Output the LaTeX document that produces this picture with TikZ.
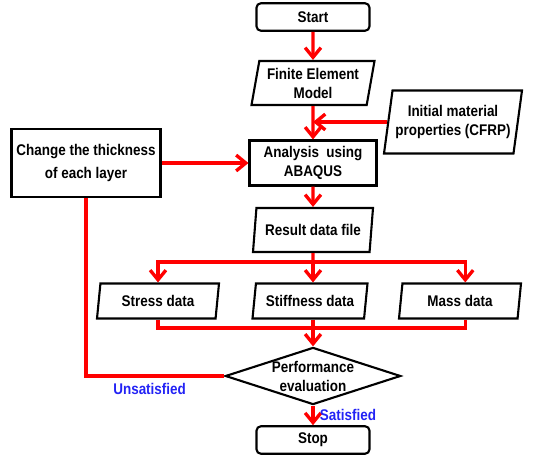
\documentclass[tikz,border=0pt]{standalone}
\usepackage{fontspec}
\setmainfont{Liberation Sans}[FakeStretch=0.87]
\usetikzlibrary{positioning,shapes.geometric,arrows.meta}
\definecolor{lnred}{HTML}{FF0000}
\definecolor{lblue}{HTML}{2323F5}

\begin{document}
\begin{tikzpicture}[font=\fontsize{8.8}{10.8}\selectfont\bfseries,
  term/.style={draw,line width=1.2pt,rounded corners=2.5pt,minimum width=2.26cm,minimum height=0.55cm,inner sep=2pt},
  proc/.style={draw,line width=1.2pt,align=center,inner sep=2pt},
  io/.style={draw,line width=1.2pt,trapezium,trapezium left angle=77,trapezium right angle=103,
    trapezium stretches body,align=center,inner sep=1pt},
  dec/.style={draw,line width=1.2pt,diamond,aspect=3.07,inner sep=0pt,align=center,
    minimum width=3.38cm,minimum height=1.1cm},
  ln/.style={lnred,line width=1.9pt},
  arr/.style={ln,-{Straight Barb[length=5.5pt,width=9pt]}},
  lbl/.style={text=lblue,inner sep=1pt}]
\useasboundingbox (0,0) rectangle (10.8,9.12);
\node[term] (st) at (6.26,8.78) {Start};
\node[io,minimum width=2.46cm,minimum height=0.88cm] (fem) at (6.26,7.46) {Finite Element\\Model};
\node[io,minimum width=2.76cm,minimum height=1.26cm] (mat) at (9.06,6.68) {Initial material\\properties (CFRP)};
\node[proc,minimum width=2.54cm,minimum height=0.9cm] (ana) at (6.26,5.86) {Analysis\ \ using\\ABAQUS};
\node[proc,minimum width=2.98cm,minimum height=1.36cm] (chg) at (1.72,5.86) {Change the thickness\\[2.5pt]of each layer};
\node[io,minimum width=2.4cm,minimum height=0.88cm] (res) at (6.26,4.52) {Result data file};
\node[io,minimum width=2.44cm,minimum height=0.7cm] (sd) at (3.16,3.10) {Stress data};
\node[io,minimum width=2.3cm,minimum height=0.7cm] (kd) at (6.2,3.10) {Stiffness data};
\node[io,minimum width=2.44cm,minimum height=0.7cm] (md) at (9.2,3.10) {Mass data};
\node[dec] (pe) at (6.26,1.60) {Performance\\evaluation};
\node[term] (sp) at (6.26,0.32) {Stop};
% main column
\draw[arr] (st) -- (fem);
\draw[arr] (fem) -- (ana);
\draw[arr] (mat.west) -- (mat.west -| fem.south);
\draw[arr] (chg) -- (ana);
\draw[arr] (ana) -- (res);
% split into the three data sets
\coordinate (br) at (6.26,3.88);
\draw[ln] (res.south) -- (br);
\draw[arr] (br) -| (sd.north);
\draw[arr] (br) -- (br |- kd.north);
\draw[arr] (br) -| ([xshift=3pt]md.north);
% merge
\coordinate (mg) at (6.26,2.56);
\draw[ln] (sd.south) |- (mg);
\draw[ln] (br |- kd.south) -- (mg);
\draw[ln] ([xshift=3pt]md.south) |- (mg);
\draw[arr] (mg) -- (pe.north);
% decision
\draw[ln] (pe.west) -| node[lbl,below,pos=0.27,yshift=-2pt] (uns) {Unsatisfied} (chg.south);
\draw[arr] (pe) -- node[lbl,right,xshift=2pt] (sat) {Satisfied} (sp);
\end{tikzpicture}
\end{document}
